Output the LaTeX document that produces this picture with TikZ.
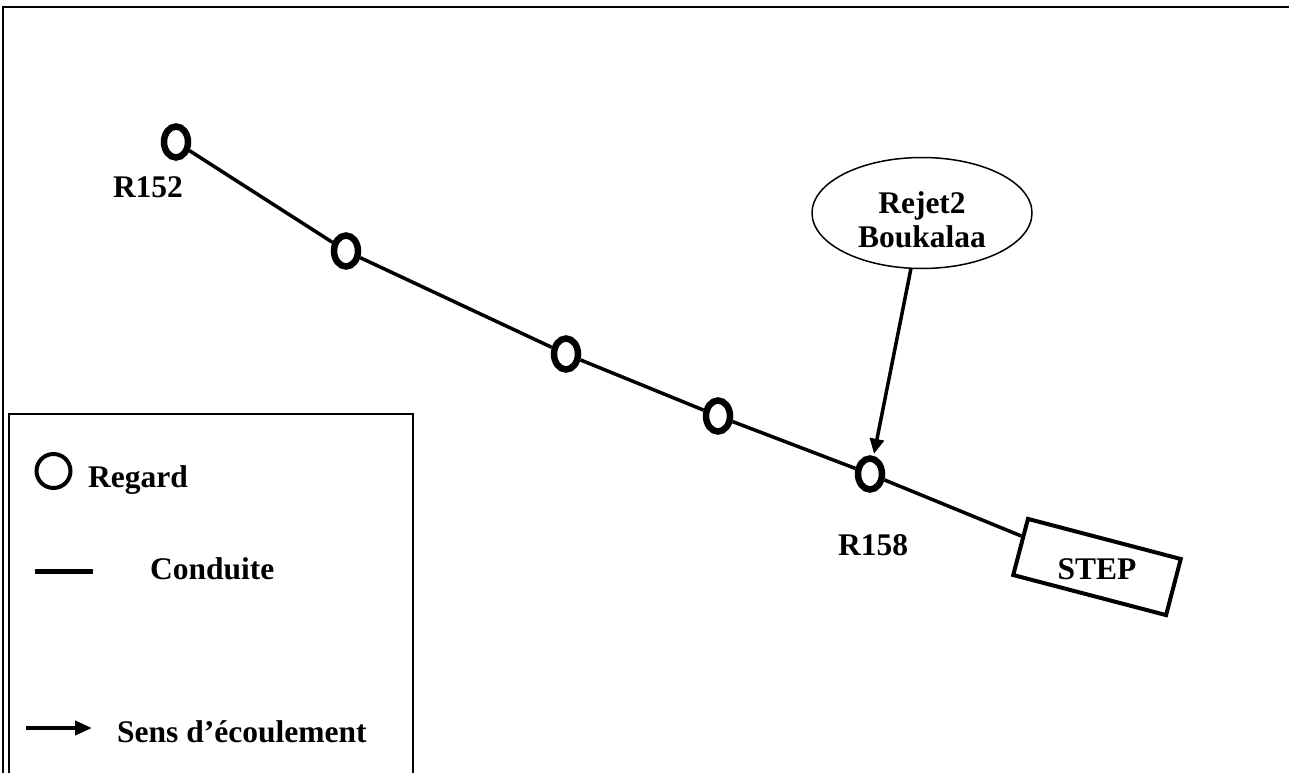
\documentclass[tikz,border=0pt]{standalone}
\usepackage{fontspec}
\setmainfont{Liberation Serif}
\usetikzlibrary{shapes.geometric,arrows.meta}
\begin{document}
\begin{tikzpicture}[x=1pt,y=-1pt,
  regard/.style={draw,ellipse,line width=6.5pt,minimum width=24pt,minimum height=31pt,inner sep=0pt},
  pipe/.style={line width=3.5pt},
  lbl/.style={font=\fontsize{31.5}{34}\selectfont\bfseries,inner sep=0pt},
  flow/.style={line width=3.5pt,-{Triangle[length=15pt,width=14pt]}}]
\useasboundingbox (0,0) rectangle (1289,773);

% outer frame, open to the right and bottom
\draw[line width=2pt] (3,773) -- (3,7) -- (1289,7);

% manholes along the sewer line
\node[regard] (r152) at (176,142) {};
\node[regard] (r2)   at (346,251) {};
\node[regard] (r3)   at (566,354) {};
\node[regard] (r4)   at (718,416) {};
\node[regard] (r158) at (870,474) {};

% treatment plant
\node[draw,line width=4pt,rotate=-14.7,minimum width=158pt,minimum height=58pt,inner sep=0pt]
  (stepbox) at (1097,567) {};
\node[lbl,anchor=base] (steptxt) at (1097,579) {STEP};

% pipe segments
\draw[pipe] (r152) -- (r2);
\draw[pipe] (r2) -- (r3);
\draw[pipe] (r3) -- (r4);
\draw[pipe] (r4) -- (r158);
\draw[pipe] (r158) -- (stepbox);

% manhole labels
\node[lbl,anchor=base] (t152) at (148,197) {R152};
\node[lbl,anchor=base] (t158) at (873,555) {R158};

% discharge point
\node[draw,ellipse,line width=1.5pt,minimum width=220pt,minimum height=111pt,inner sep=0pt]
  (rejet) at (922,213) {};
\node[lbl,align=center] (rejettxt) at (922,220) {Rejet2\\Boukalaa};
\draw[flow,shorten >=2pt] (rejet) -- (r158);

% legend
\draw[line width=2pt] (9,773) -- (9,414) -- (413,414) -- (413,773);
\node[draw,circle,line width=4pt,minimum size=34pt,inner sep=0pt] (lgcirc) at (53.5,471) {};
\node[lbl,anchor=base west] (lgregard) at (88,487) {Regard};
\coordinate (lgpa) at (35,571);
\coordinate (lgpb) at (93,571);
\draw[line width=5pt] (lgpa) -- (lgpb);
\node[lbl,anchor=base west] (lgconduite) at (150,579) {Conduite};
\coordinate (lgfa) at (26,728);
\coordinate (lgfb) at (92,728);
\draw[line width=4pt,-{Triangle[length=17pt,width=14pt]}] (lgfa) -- (lgfb);
\node[lbl,anchor=base west] (lgsens) at (117,742) {Sens d’écoulement};
\end{tikzpicture}
\end{document}
